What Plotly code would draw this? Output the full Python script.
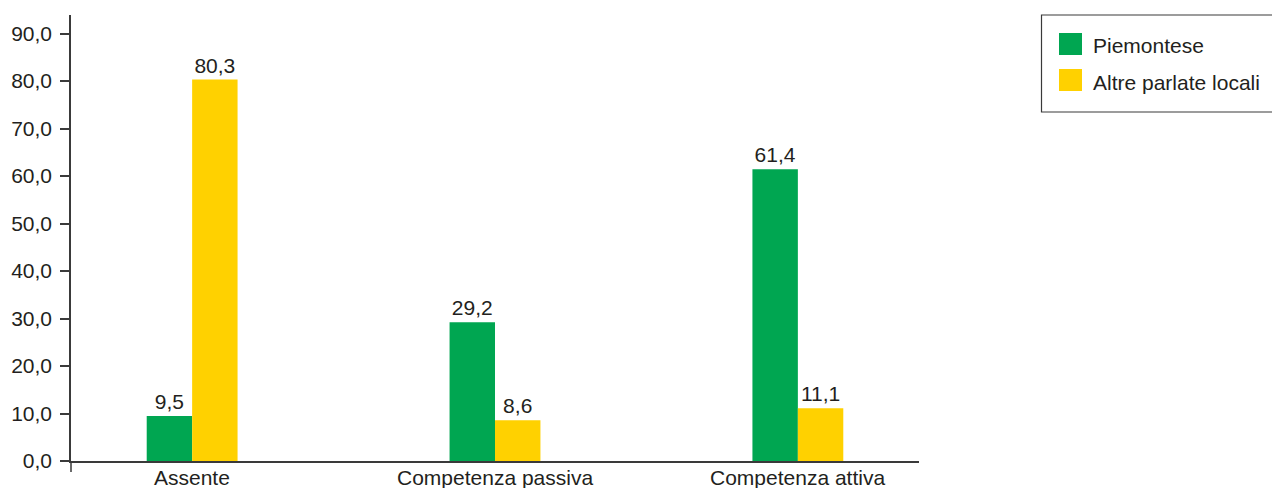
import plotly.graph_objects as go

# Data
categories = ["Assente", "Competenza passiva", "Competenza attiva"]
piemontese = [9.5, 29.2, 61.4]
altre_parlate = [80.3, 8.6, 11.1]
series_names = ["Piemontese", "Altre parlate locali"]
colors = ["#00a651", "#ffd100"]
y_ticks = [0, 10, 20, 30, 40, 50, 60, 70, 80, 90]

W, H = 1272, 488
ML, MR, MT, MB = 71, 353, 15, 27
FONT = "Liberation Sans, Arial, Helvetica, sans-serif"
TXT = "#231f20"
AX = "#3a3a3a"


def px_x(x):
    return (x - ML) / (W - ML - MR)


def px_y(y):
    return (H - MB - y) / (H - MT - MB)


def fmt(v):
    return f"{v:.1f}".replace(".", ",")


fig = go.Figure()
for name, vals, col in zip(series_names, [piemontese, altre_parlate], colors):
    fig.add_trace(go.Bar(
        x=categories, y=vals, name=name, marker=dict(color=col, line=dict(width=0)),
        text=[fmt(v) for v in vals], textposition="outside",
        textfont=dict(family=FONT, size=21, color=TXT), cliponaxis=False,
        showlegend=False,
    ))

shapes = [
    # y axis line continues a little below the baseline
    dict(type="line", xref="paper", yref="paper", x0=0, x1=0, y0=0, y1=px_y(472),
         line=dict(color=AX, width=1.5)),
    # legend frame
    dict(type="rect", xref="paper", yref="paper", x0=px_x(1041.5), x1=px_x(1290),
         y0=px_y(15), y1=px_y(112), line=dict(color=AX, width=1.2), fillcolor="rgba(0,0,0,0)"),
]
annotations = []
for i, (name, col) in enumerate(zip(series_names, colors)):
    top = 33 + i * 36
    shapes.append(dict(type="rect", xref="paper", yref="paper",
                       x0=px_x(1059), x1=px_x(1082), y0=px_y(top + 22), y1=px_y(top),
                       line=dict(width=0), fillcolor=col))
    annotations.append(dict(xref="paper", yref="paper", x=px_x(1091), y=px_y(top + 13),
                            text=name, showarrow=False, xanchor="left", yanchor="middle",
                            font=dict(family=FONT, size=21, color=TXT)))

# category labels under the baseline
for cat in categories:
    annotations.append(dict(xref="x", yref="paper", x=cat, y=px_y(477),
                            text=cat, showarrow=False, xanchor="center", yanchor="middle",
                            font=dict(family=FONT, size=21, color=TXT)))

fig.update_layout(
    width=W, height=H,
    margin=dict(l=ML, r=MR, t=MT, b=MB, pad=0, autoexpand=False),
    paper_bgcolor="white", plot_bgcolor="white",
    barmode="group", bargap=0.7, bargroupgap=0,
    separators=",.",
    font=dict(family=FONT, size=21, color=TXT),
    shapes=shapes, annotations=annotations,
    xaxis=dict(range=[-0.4, 2.4], showline=True, linecolor=AX, linewidth=1.5,
               ticks="", showticklabels=False, showgrid=False, zeroline=False,
               automargin=False),
    yaxis=dict(range=[0, 93.9], tickvals=y_ticks, tickformat=".1f",
               showline=True, linecolor=AX, linewidth=1.5,
               ticks="outside", ticklen=9, tickcolor=AX, tickwidth=1.5,
               ticklabelstandoff=4,
               showgrid=False, zeroline=False, automargin=False,
               tickfont=dict(family=FONT, size=21, color=TXT)),
)

fig.write_html("out.html")
